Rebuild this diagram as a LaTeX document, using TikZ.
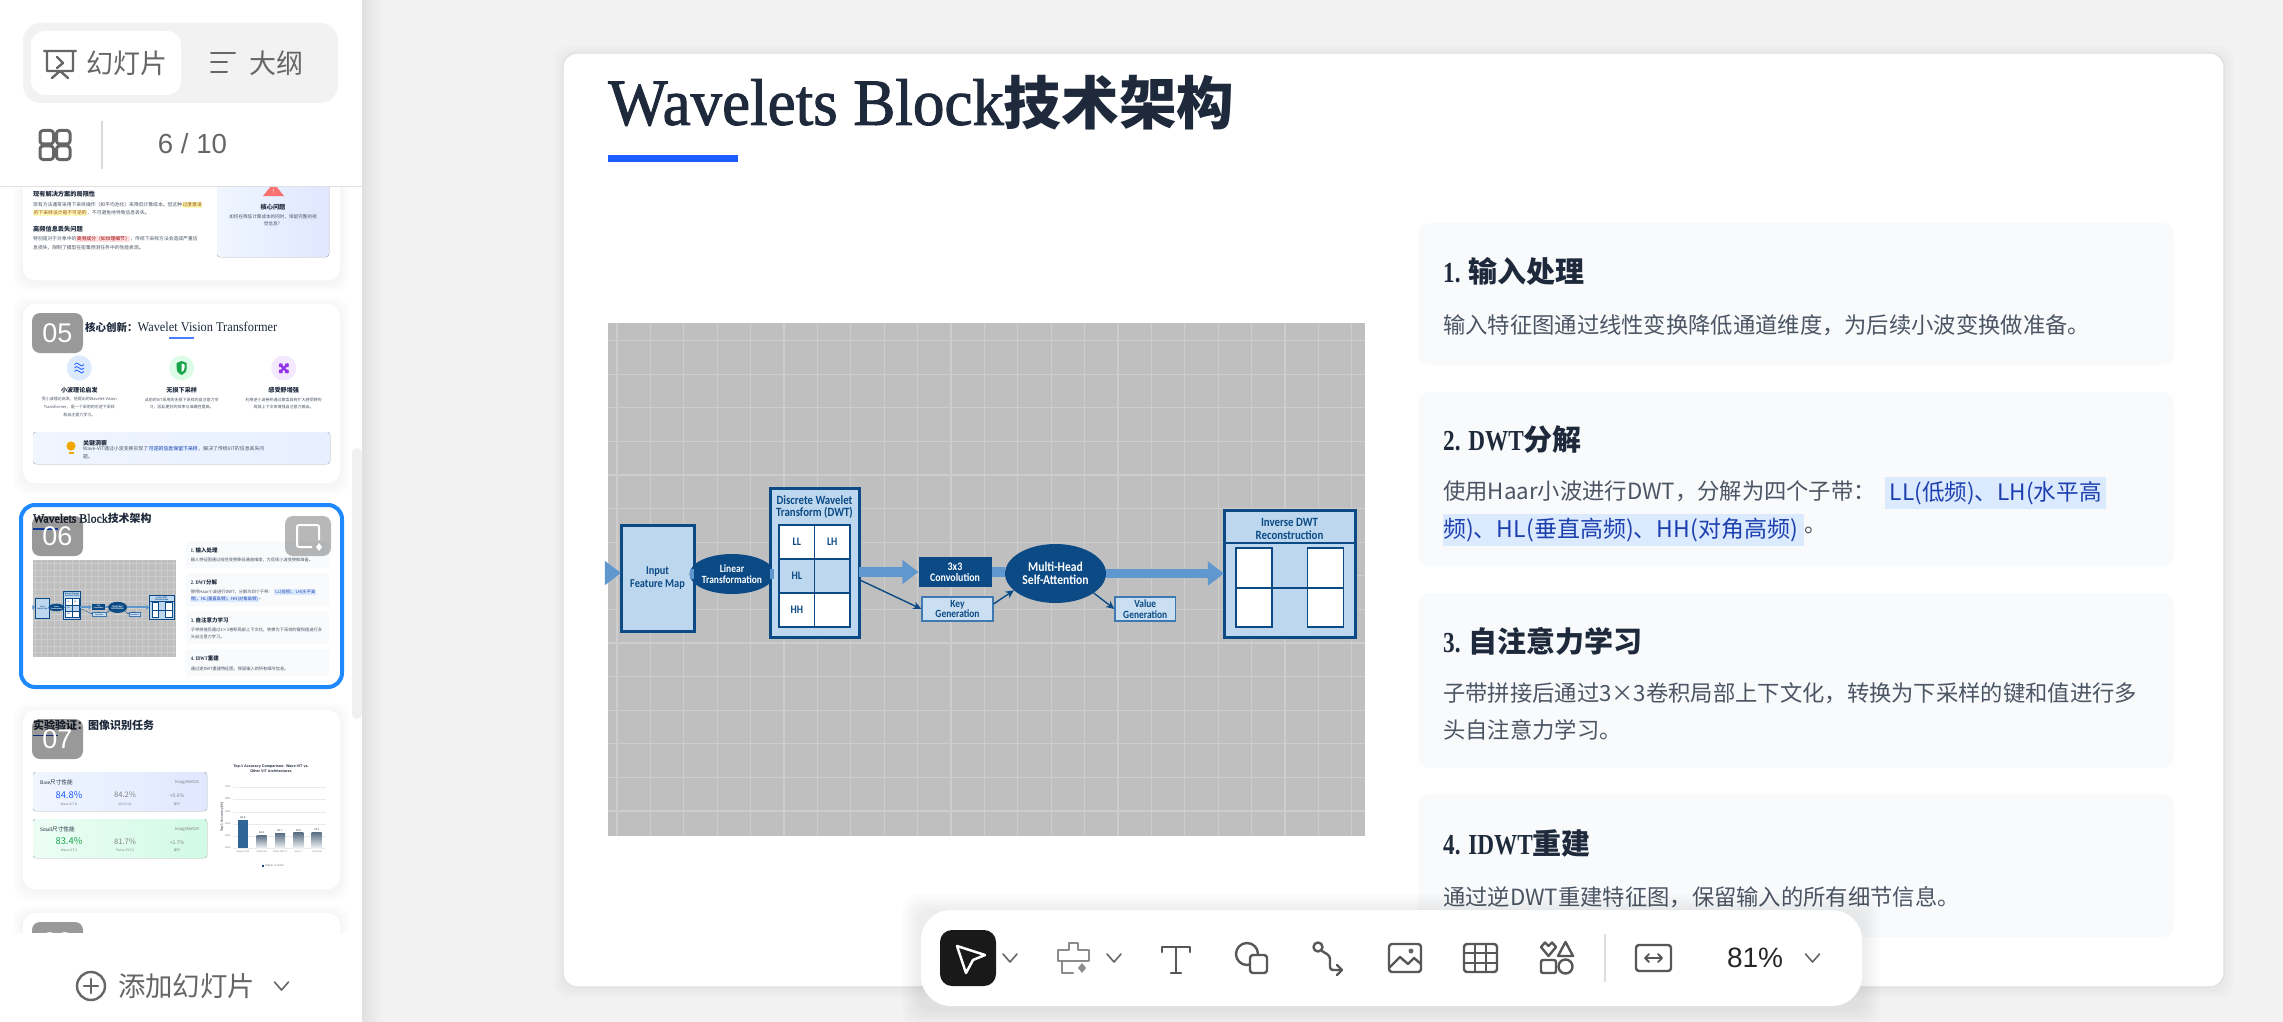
\documentclass[tikz,border=0pt]{standalone}
\usepackage{fontspec}
\setmainfont{Noto Sans CJK SC}
\newfontfamily\headfont[FakeStretch=.92]{Liberation Serif}
\newfontfamily\titlefont[FakeStretch=.955,FakeBold=1.5]{Liberation Serif}
\newfontfamily\panelfont[FakeStretch=.8]{Liberation Serif}
\newfontfamily\uifont{Liberation Sans}
\newfontfamily\boxfont[FakeStretch=.86]{Carlito}
\usetikzlibrary{arrows.meta,positioning,shapes.geometric}
\definecolor{canvasgray}{HTML}{F2F2F2}
\definecolor{uigray}{HTML}{666666}
\definecolor{inkdark}{HTML}{1E293B}
\definecolor{inkbody}{HTML}{4B5563}
\definecolor{accentblue}{HTML}{1D5CFF}
\definecolor{panelgray}{HTML}{F8FAFC}
\definecolor{hiliteblue}{HTML}{DBEAFE}
\definecolor{hiliteink}{HTML}{1E40AF}
\definecolor{imagegray}{HTML}{BFBFBF}
\definecolor{gridgray}{HTML}{CDCDCD}
\definecolor{boxdark}{HTML}{0B4A85}
\definecolor{boxlight}{HTML}{BDD7EE}
\definecolor{flowblue}{HTML}{5F97CF}
\definecolor{selectblue}{HTML}{1E88FF}
\definecolor{tintblue}{HTML}{EFF6FF}
\definecolor{tintindigo}{HTML}{E0E7FF}
\definecolor{tintmint}{HTML}{ECFDF5}
\definecolor{tintgreen}{HTML}{D1FAE5}
\definecolor{disccblue}{HTML}{DBEAFE}
\definecolor{discgreen}{HTML}{DCFCE7}
\definecolor{discviolet}{HTML}{F3E8FF}
\definecolor{signviolet}{HTML}{9333EA}
\definecolor{signgreen}{HTML}{16A34A}
\definecolor{signamber}{HTML}{F0A800}
\definecolor{signred}{HTML}{F87171}
\newcommand\slidelw{1}
\newcommand\softshadow[5]{\foreach \spread in {3,6,...,#5}{\fill[black,fill opacity=.012,rounded corners=14pt] (#1-\spread,#2-\spread+2) rectangle (#3+\spread,#4+\spread+2);}}
\newcommand\chevron[2]{\draw[iconline,line width=1.6pt] (#1-7,#2-4) -- (#1,#2+4) -- (#1+7,#2-4);}
\newcommand\marktext[3]{\begingroup\setlength\fboxsep{.6pt}\colorbox{#1}{\textcolor{#2}{#3}}\endgroup}
\tikzset{
  fs/.style={font=\fontsize{#1}{#1}\selectfont},
  txt/.style={inner sep=0pt,anchor=west},
  ctxt/.style={inner sep=0pt,anchor=center},
  uitext/.style={ctxt,text=uigray},
  iconline/.style={draw=uigray,line width=2.4pt,line cap=round,line join=round},
  toolicon/.style={draw=uigray!85!black,line width=2.4pt,line cap=round,line join=round},
  cardbox/.style={fill=white,rounded corners=12pt},
  badgebox/.style={rectangle,rounded corners=8pt,fill=black,fill opacity=.4,text opacity=1,text=white,minimum width=51,minimum height=40,inner sep=0pt,font=\uifont\fontsize{27}{27}\selectfont},
  infopanel/.style={rectangle,fill=panelgray,rounded corners=12*\slidelw pt,minimum width=756,inner sep=0pt},
  paneltitle/.style={txt,text=inkdark,font=\fontsize{29}{29}\selectfont\bfseries},
  bodyline/.style={txt,text=inkbody,font=\fontsize{22.3}{22.3}\selectfont},
  hilite/.style={bodyline,fill=hiliteblue,text=hiliteink,minimum height=32,inner xsep=4pt},
  blockbox/.style={rectangle,draw=boxdark,fill=boxlight,line width=3*\slidelw pt,inner sep=0pt,outer sep=0pt,align=center,text=boxdark,font=\boxfont\fontsize{12}{12.2}\selectfont\bfseries},
  ovalbox/.style={ellipse,fill=boxdark,inner sep=0pt,outer sep=0pt,align=center,text=white,font=\boxfont\fontsize{11}{11.2}\selectfont\bfseries},
  smallbox/.style={rectangle,draw=flowblue!60!boxdark,fill=boxlight!80!white,line width=1.2*\slidelw pt,minimum width=71,minimum height=24,inner sep=0pt,align=center,text=boxdark,font=\boxfont\fontsize{11}{10.5}\selectfont\bfseries},
  subband/.style={rectangle,draw=boxdark,line width=1.5*\slidelw pt,minimum width=35.5,minimum height=34,inner sep=0pt,outer sep=0pt,text=boxdark,font=\boxfont\fontsize{11.5}{14}\selectfont\bfseries},
  boxlabel/.style={inner sep=0pt,align=center,text=boxdark,font=\boxfont\fontsize{12.6}{12.3}\selectfont\bfseries},
  flow/.style={draw=flowblue,line width=9.5*\slidelw pt,-{Triangle[length=0pt 1.7,width=0pt 2.45]}},
  flowbar/.style={draw=flowblue,line width=9.5*\slidelw pt},
  thinflow/.style={draw=boxdark,line width=1.4*\slidelw pt,-{Stealth[length=0pt 6,width=0pt 5.5]}},
  gridline/.style={draw=gridgray,line width=1.1*\slidelw pt}
}
\newcommand\waveletslide{
  \node[txt,text=inkdark] (slide title) at (608,103) {{\titlefont\fontsize{66}{66}\selectfont Wavelets Block}{\fontsize{57.6}{57.6}\selectfont\bfseries 技术架构}};
  \fill[accentblue] (608,155) rectangle (738,162);
  \fill[imagegray] (608,323) rectangle (1365,836);
  \foreach \k in {0,...,22} \draw[gridline] ({617+33.4*\k},323) -- ({617+33.4*\k},836);
  \foreach \k in {0,...,14} \draw[gridline] (608,{340.6+33.6*\k}) -- (1365,{340.6+33.6*\k});
  \node[blockbox,minimum width=73,minimum height=106] (input) at (657.5,578) {Input\\Feature Map};
  \node[ovalbox,minimum width=68,minimum height=40] (linear) at (732,574) {Linear\\Transformation};
  \node[blockbox,minimum width=89,minimum height=149] (dwt) at (814.5,562.5) {};
  \node[boxlabel] (dwt title) at (814.5,507) {Discrete Wavelet\\Transform (DWT)};
  \node[subband,fill=white] (ll) at (796.75,542) {LL};
  \node[subband,fill=white] (lh) [right = 0pt of ll] {LH};
  \node[subband,fill=boxlight] (hl) [below = 0pt of ll] {HL};
  \node[subband,fill=boxlight] (hx) [right = 0pt of hl] {};
  \node[subband,fill=white] (hh) [below = 0pt of hl] {HH};
  \node[subband,fill=white] (hy) [right = 0pt of hh] {};
  \node[blockbox,fill=boxdark,text=white,draw=none,minimum width=73,minimum height=30,font=\boxfont\fontsize{11.5}{10.8}\selectfont\bfseries] (conv) at (955,572) {3x3\\Convolution};
  \node[smallbox] (key) at (957.5,609) {Key\\Generation};
  \node[ovalbox,minimum width=101,minimum height=59,font=\boxfont\fontsize{13.5}{12.8}\selectfont\bfseries] (mhsa) at (1055.5,573.5) {Multi-Head\\Self-Attention};
  \node[smallbox,minimum width=60.5] (value) at (1145.25,609) {Value\\Generation};
  \node[blockbox,minimum width=131,minimum height=127] (inverse) at (1289.5,573.5) {};
  \coordinate (inverse head) at (1289.5,543);
  \coordinate (entry) at (607,573);
  \draw[draw=boxdark,line width=1.6*\slidelw pt] (inverse.west |- inverse head) -- (inverse.east |- inverse head);
  \node[boxlabel] (inverse title) at (1289.5,529) {Inverse DWT\\Reconstruction};
  \node[subband,fill=white,minimum width=36,minimum height=40] (inv a) at (1254,568) {};
  \node[subband,fill=white,minimum width=36,minimum height=39] (inv b) [below = 0pt of inv a] {};
  \node[subband,fill=white,minimum width=36,minimum height=40] (inv c) at (1325.25,568) {};
  \node[subband,fill=white,minimum width=36,minimum height=39] (inv d) [below = 0pt of inv c] {};
  \draw[draw=boxdark,line width=1.5*\slidelw pt] (inv a.south east) -- (inv c.south west);
  \draw[flow] (entry) -- (input.west |- entry);
  \draw[flowbar] (input.east |- linear) -- (linear.west);
  \draw[flowbar] (linear.east) -- (dwt.west |- linear);
  \draw[flow] (dwt.east |- conv) -- (conv.west);
  \draw[flowbar] (conv.east) -- (mhsa.west |- conv);
  \draw[flow] (mhsa.east) -- (inverse.west |- mhsa);
  \draw[thinflow] (dwt.-21) -- (key.west);
  \draw[thinflow] (key.8) -- (mhsa.202);
  \draw[thinflow] (mhsa.-27) -- (value.west);
  \node[infopanel,minimum height=142] (panel a) at (1796,294) {};
  \node[infopanel,minimum height=175] (panel b) at (1796,479.5) {};
  \node[infopanel,minimum height=175] (panel c) at (1796,680.5) {};
  \node[infopanel,minimum height=143] (panel d) at (1796,865.5) {};
  \node[paneltitle] (title a) at (1443,271) {{\panelfont 1. }输入处理};
  \node[bodyline] (body a) at (1443,325) {输入特征图通过线性变换降低通道维度，为后续小波变换做准备。};
  \node[paneltitle] (title b) at (1443,440) {{\panelfont 2. DWT}分解};
  \node[bodyline] (body b) at (1443,491) {使用Haar小波进行DWT，分解为四个子带：};
  \node[hilite,minimum width=221,font=\fontsize{22.6}{22.6}\selectfont] (band b) at (1885,493) {LL(低频)、LH(水平高};
  \node[hilite,inner xsep=0pt,text width=361,font=\fontsize{23}{23}\selectfont] (band c) at (1443,530) {频)、HL(垂直高频)、HH(对角高频)};
  \node[bodyline] (stop b) [right = 0pt of band c] {。};
  \node[paneltitle] (title c) at (1443,641) {{\panelfont 3. }自注意力学习};
  \node[bodyline] (body c) at (1443,693) {子带拼接后通过3×3卷积局部上下文化，转换为下采样的键和值进行多};
  \node[bodyline] (body e) at (1443,730) {头自注意力学习。};
  \node[paneltitle] (title d) at (1443,843) {{\panelfont 4. IDWT}重建};
  \node[bodyline] (body d) at (1443,897) {通过逆DWT重建特征图，保留输入的所有细节信息。};
}
\begin{document}
\begin{tikzpicture}[x=1pt,y=-1pt]
  \useasboundingbox (0,0) rectangle (2283,1022);
  \fill[canvasgray] (0,0) rectangle (2283,1022);
  \shade[left color=black!12,right color=canvasgray] (362,0) rectangle (382,1022);
  \softshadow{563}{53}{2224}{987}{9}
  \draw[draw=black!12,fill=white,rounded corners=14pt,line width=1.2pt] (563,53) rectangle (2224,987);
  \begin{scope}[every node/.append style={transform shape}]
    \waveletslide
  \end{scope}

  \fill[white] (0,0) rectangle (362,1022);
  \fill[black!6,rounded corners=5pt] (352,448) rectangle (362,719);

  \softshadow{23}{100}{340}{280}{9}
  \fill[cardbox] (23,100) rectangle (340,280);
  \fill[left color=tintblue,right color=tintindigo,rounded corners=3pt] (217,150) rectangle (329,257);
  \fill[signred,line join=round] (273.5,183) -- (284,196) -- (263,196) -- cycle;
  \node[ctxt,text=white,fs=6] (warning mark) at (273.5,191) {!};
  \node[ctxt,text=inkdark,fs=6.2] (core title) at (273,207) {\bfseries 核心问题};
  \node[ctxt,text=inkbody,fs=4.6] (core a) at (273,217) {如何在降低计算成本的同时，保留完整的视};
  \node[ctxt,text=inkbody,fs=4.6] (core b) at (273,224) {觉信息？};
  \node[txt,text=inkdark,fs=6.2] (limit title) at (33,194) {\bfseries 现有解决方案的局限性};
  \node[txt,text=inkbody,fs=4.8] (limit a) at (33,205) {现有方法通常采用下采样操作（如平均池化）来降低计算成本。但这种\marktext{yellow!25}{orange!60!black}{过度激进}};
  \node[txt,text=inkbody,fs=4.8] (limit b) at (33,213) {\marktext{yellow!25}{orange!60!black}{的下采样设计是不可逆的}，不可避免地导致信息丢失。};
  \node[txt,text=inkdark,fs=6.2] (loss title) at (33,229) {\bfseries 高频信息丢失问题};
  \node[txt,text=inkbody,fs=4.8] (loss a) at (33,239) {特别是对于对象中的\marktext{red!12}{red!60!black}{高频成分（如纹理细节）}，传统下采样方法会造成严重信};
  \node[txt,text=inkbody,fs=4.8] (loss b) at (33,248) {息损失，限制了模型在密集预测任务中的性能表现。};

  \softshadow{23}{304}{340}{483}{9}
  \fill[cardbox] (23,304) rectangle (340,483);
  \node[txt,text=inkdark] (innovation title) at (85,327) {{\fontsize{10.5}{10.5}\selectfont\bfseries 核心创新：}{\headfont\fontsize{13.4}{13.4}\selectfont Wavelet Vision Transformer}};
  \fill[accentblue!80] (169,337) rectangle (194,339);
  \node[circle,fill=disccblue,minimum size=25,inner sep=0pt] (wave icon) at (79.3,368) {};
  \node[circle,fill=discgreen,minimum size=25,inner sep=0pt] (shield icon) at (181.7,368) {};
  \node[circle,fill=discviolet,minimum size=25,inner sep=0pt] (field icon) at (283.7,368) {};
  \foreach \wy in {364.5,368,371.5}
    \draw[accentblue,line width=.8pt] (74.5,\wy) .. controls (76,\wy-2) and (77,\wy-2) .. (79.3,\wy) .. controls (81,\wy+2) and (82.5,\wy+2) .. (84,\wy);
  \fill[signgreen] (176.7,363) -- (181.7,361) -- (186.7,363) -- (186.7,368) .. controls (186.7,372) and (184,374) .. (181.7,375) .. controls (179,374) and (176.7,372) .. (176.7,368) -- cycle;
  \fill[white] (181.7,363.5) -- (184.5,364.5) -- (184.5,368) .. controls (184.5,370) and (183,371.5) .. (181.7,372) -- cycle;
  \draw[signviolet,line width=2.2pt] (279.5,364) -- (288,372.5) (288,364) -- (279.5,372.5);
  \fill[signviolet] (279,363.5) rectangle (282.5,367) (285,363.5) rectangle (288.5,367) (279,369.5) rectangle (282.5,373) (285,369.5) rectangle (288.5,373);
  \foreach \hx/\hname/\hlab in {79.3/wave/小波理论启发,181.7/lossless/无损下采样,283.7/field/感受野增强}
    \node[ctxt,text=inkdark,fs=6.1] (\hname head) at (\hx,390) {\bfseries\hlab};
  \node[ctxt,text=inkbody,fs=4] (wave a) at (79.3,399) {受小波理论启发，他提出的Wavelet Vision};
  \node[ctxt,text=inkbody,fs=4] (wave b) at (79.3,407) {Transformer，是一个采用的可逆下采样};
  \node[ctxt,text=inkbody,fs=4] (wave c) at (79.3,415) {和自注意力学习。};
  \node[ctxt,text=inkbody,fs=4] (lossless a) at (181.7,400) {此前的ViT采用的无损下采样的自注意力学};
  \node[ctxt,text=inkbody,fs=4] (lossless b) at (181.7,407) {习，因此更好的效率与准确性提高。};
  \node[ctxt,text=inkbody,fs=4] (field a) at (283.7,400) {利用逆小波卷积通过聚类具有扩大感受野的};
  \node[ctxt,text=inkbody,fs=4] (field b) at (283.7,407) {局部上下文来增强自注意力输出。};
  \fill[left color=tintblue,right color=tintindigo!50!tintblue,rounded corners=3pt] (33,432) rectangle (330,464);
  \fill[signamber] (71,446) circle (4.6);
  \fill[signamber] (68.5,451.5) rectangle (73.5,454);
  \node[txt,text=inkdark,fs=6] (insight title) at (83,443) {\bfseries 关键洞察};
  \node[txt,text=inkbody,fs=4.9] (insight a) at (83,448.5) {Wave-ViT通过小波变换实现了\marktext{hiliteblue}{hiliteink}{可逆的信息保留下采样}，解决了传统ViT的信息丢失问};
  \node[txt,text=inkbody,fs=4.9] (insight b) at (83,457) {题。};

  \softshadow{23}{710}{340}{889}{9}
  \fill[cardbox] (23,710) rectangle (340,889);
  \node[txt,text=inkdark,fs=11] (lab title) at (33,725) {\bfseries 实验验证：图像识别任务};
  \fill[accentblue!80!black] (33,734.5) rectangle (58,736);
  \fill[left color=tintblue,right color=tintindigo,rounded corners=3pt] (33,772) rectangle (207,811);
  \fill[left color=tintmint,right color=tintgreen,rounded corners=3pt] (33,819) rectangle (207,858);
  \node[txt,text=inkdark,fs=5.6] (base head) at (40,782) {{\headfont Base}尺寸性能};
  \node[txt,text=inkdark,fs=5.6] (small head) at (40,829) {{\headfont Small}尺寸性能};
  \node[ctxt,text=gray,fs=4.2] (base set) at (187,782.5) {ImageNet1K};
  \node[ctxt,text=gray,fs=4.2] (small set) at (187,829.5) {ImageNet1K};
  \node[ctxt,text=accentblue,fs=9.4] (base wave) at (69,795) {84.8\%};
  \node[ctxt,text=signgreen,fs=9.4] (small wave) at (69,841) {83.4\%};
  \node[ctxt,text=gray,fs=7.6] (base rival) at (125,795) {84.2\%};
  \node[ctxt,text=gray,fs=7.6] (small rival) at (125,842) {81.7\%};
  \node[ctxt,text=gray,fs=5] (base gain) at (177,796) {+0.6\%};
  \node[ctxt,text=gray,fs=5] (small gain) at (177,843) {+1.7\%};
  \node[ctxt,text=gray,fs=3.2] (base a) at (69,804) {Wave-ViT-B};
  \node[ctxt,text=gray,fs=3.2] (base b) at (125,804) {VOLO-D1};
  \node[ctxt,text=gray,fs=3.2] (base c) at (177,804) {提升};
  \node[ctxt,text=gray,fs=3.2] (small a) at (69,850) {Wave-ViT-S};
  \node[ctxt,text=gray,fs=3.2] (small b) at (125,850) {Twins-SVT-S};
  \node[ctxt,text=gray,fs=3.2] (small c) at (177,850) {提升};
  \node[ctxt,align=center,text=inkdark,font=\uifont\fontsize{3.7}{5.4}\selectfont\bfseries] (chart title) at (271,768.5) {Top-1 Accuracy Comparison: Wave-ViT vs.\\Other ViT Architectures};
  \foreach \gy/\glab in {787/90,799/88,812/86,824/84,836/82,848/80}{
    \draw[black!8,line width=.5pt] (233,\gy) -- (326,\gy);
    \node[ctxt,text=gray,font=\uifont\fontsize{2.6}{3}\selectfont] (tick \glab) at (228,\gy) {\glab\%};
  }
  \node[ctxt,rotate=90,text=inkbody,font=\uifont\fontsize{3.2}{4}\selectfont\bfseries] (axis label) at (222,817) {Top-1 Accuracy (\%)};
  \fill[boxdark!85!white] (238,820) rectangle (248,848);
  \foreach \bx/\by in {261.7/835,280/833,298.3/832.5,316.7/832}
    \shade[top color=boxdark!35!gray,bottom color=tintblue!70!gray!30] (\bx-5,\by) rectangle (\bx+5,848);
  \foreach \bk/\bx/\by/\blab/\bname in {1/243/820/84.8/Wave-ViT-B,2/261.7/835/84.2/VOLO-D1,3/280/833/81.7/Twins-SVT-S,4/298.3/832.5/79.8/Swin-T,5/316.7/832/79.1/ViT-B-16}{
    \node[ctxt,text=inkdark,font=\uifont\fontsize{2.6}{3}\selectfont] (value \bk) at (\bx,\by-2) {\blab};
    \node[ctxt,text=gray,font=\uifont\fontsize{2.4}{3}\selectfont] (name \bk) at (\bx,852) {\bname};
  }
  \fill[boxdark] (262,864.8) rectangle (264,866.8);
  \node[txt,text=gray,font=\uifont\fontsize{2.8}{3}\selectfont] (legend) at (265,866) {Higher is better};

  \softshadow{23}{913}{340}{1000}{9}
  \fill[cardbox] (23,913) rectangle (340,1000);

  \begin{scope}[shift={(-81.9,499)},scale=.189,every node/.append style={transform shape}]
    \renewcommand\slidelw{.189}
    \fill[white] (563,53) rectangle (2224,987);
    \waveletslide
  \end{scope}
  \draw[selectblue,line width=4pt,rounded corners=14pt] (21,505) rectangle (342,687);

  \node[badgebox] (badge five) at (57.5,333) {05};
  \node[badgebox] (badge six) at (57.5,536) {06};
  \node[badgebox] (badge seven) at (57.5,739) {07};
  \node[badgebox] (badge eight) at (57.5,942) {08};
  \node[badgebox,fill opacity=.28,minimum width=46] (spark button) at (308,536) {};
  \draw[white,line width=2pt,rounded corners=2pt] (319,540) -- (319,525) -- (297,525) -- (297,547) -- (312,547);
  \fill[white] (319,543) -- (322,547) -- (319,551) -- (316,547) -- cycle;

  \fill[white] (0,0) rectangle (362,186);
  \draw[black!12,line width=1pt] (0,186.5) -- (362,186.5);
  \fill[white] (0,933) rectangle (362,1022);
  \fill[canvasgray,rounded corners=18pt] (23,23) rectangle (338,103);
  \fill[white,rounded corners=14pt] (31,31) rectangle (181,95);
  \draw[iconline] (44,51) -- (76,51) (47,51) -- (47,71) -- (73,71) -- (73,51) (52,78) -- (60,71) -- (68,78) (57,57) -- (63,63) -- (57,68);
  \node[uitext,fs=27] (tab slides) at (127,63) {幻灯片};
  \draw[iconline,line width=2pt] (211,53) -- (235,53) (211,62) -- (227,62) (211,72) -- (227,72);
  \node[uitext,fs=27] (tab outline) at (276.5,63) {大纲};
  \foreach \qx/\qy in {40/130.5,56.5/130.5,40/146,56.5/146}
    \draw[iconline,line width=3pt,rounded corners=3pt] (\qx,\qy) rectangle (\qx+13.5,\qy+13.5);
  \draw[black!15,line width=1.2pt] (102,121) -- (102,169);
  \node[uitext,font=\uifont\fontsize{27.6}{27.6}\selectfont] (page count) at (192.5,144) {6 / 10};
  \draw[iconline] (91,986) circle (14);
  \draw[iconline] (84,986) -- (98,986) (91,979) -- (91,993);
  \node[uitext,fs=27.4] (add slide) at (186.5,986) {添加幻灯片};
  \chevron{281.5}{986}

  \softshadow{921}{910}{1862}{1006}{18}
  \fill[white,rounded corners=30pt] (921,910) rectangle (1862,1006);
  \fill[black!90,rounded corners=12pt] (940,930) rectangle (996,986);
  \draw[white,line width=2.5pt,line join=round] (957,946) -- (985,955) -- (973,960) -- (966,973) -- cycle;
  \chevron{1010}{958}
  \draw[toolicon,draw=gray!90] (1069,943) -- (1078,943) -- (1078,950) -- (1089,950) -- (1089,961) -- (1058,961) -- (1058,950) -- (1069,950) -- cycle (1062,961) -- (1062,973) -- (1073,973);
  \fill[gray!90] (1082,963) -- (1086,968) -- (1082,973) -- (1078,968) -- cycle;
  \chevron{1114}{958}
  \draw[toolicon] (1162,952) -- (1162,947) -- (1190,947) -- (1190,952) (1176,947) -- (1176,973) (1171,973) -- (1181,973);
  \draw[toolicon] (1247,954) circle (11);
  \draw[toolicon,fill=white,rounded corners=3pt] (1250,955) rectangle (1267,973);
  \draw[toolicon] (1318,947) circle (4.5);
  \draw[toolicon,rounded corners=3pt] (1322,951) -- (1330,956) -- (1330,970) -- (1342,970);
  \draw[toolicon] (1337,965) -- (1342,970) -- (1337,975);
  \draw[toolicon,rounded corners=3pt] (1389,944) rectangle (1421,972);
  \draw[toolicon] (1389,968) -- (1400,957) -- (1408,964) -- (1414,958) -- (1421,964);
  \fill[uigray] (1411,951) circle (2.5);
  \draw[toolicon,rounded corners=3pt] (1464,944) rectangle (1497,972);
  \draw[toolicon,line width=2pt] (1464,953) -- (1497,953) (1464,963) -- (1497,963) (1475,944) -- (1475,972) (1486,944) -- (1486,972);
  \draw[toolicon] (1548.5,956) -- (1541,947) -- (1545,942.5) -- (1548.5,946) -- (1552,942.5) -- (1556,947) -- cycle;
  \draw[toolicon] (1565.5,942) -- (1573,956) -- (1558,956) -- cycle;
  \draw[toolicon,rounded corners=2pt] (1541,960) rectangle (1556,973);
  \draw[toolicon] (1565.5,966.5) circle (7);
  \draw[black!13,line width=1.2pt] (1605,934) -- (1605,982);
  \draw[toolicon,rounded corners=3pt] (1636,945) rectangle (1671,971);
  \draw[toolicon,line width=1.8pt] (1645,958) -- (1662,958) (1649,954) -- (1645,958) -- (1649,962) (1658,954) -- (1662,958) -- (1658,962);
  \node[ctxt,text=black!85,font=\uifont\fontsize{28}{28}\selectfont] (zoom level) at (1755,958) {81\%};
  \chevron{1812.5}{958}
\end{tikzpicture}
\end{document}
